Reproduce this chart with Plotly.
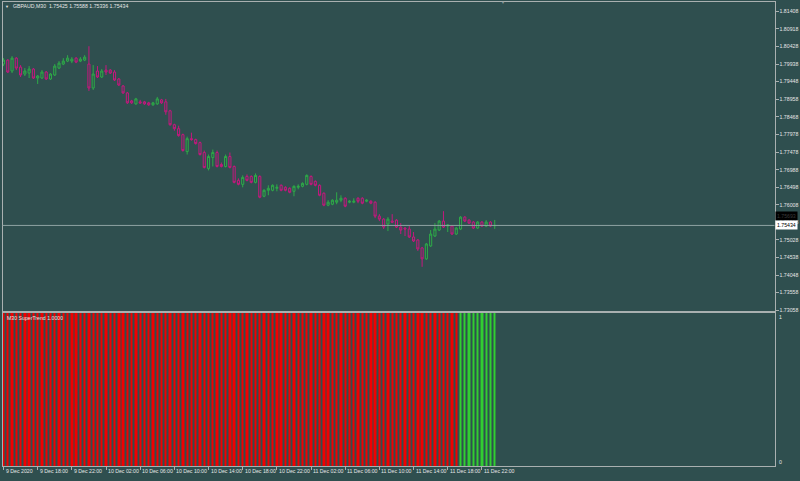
import pandas as pd
import plotly.graph_objects as go

# ---------------- data ----------------
symbol = "GBPAUD,M30"
indicator_name = "M30 SuperTrend 1.0000"
start_time = "2020-12-09 14:00"

opens = [
    1.79938, 1.80049, 1.79744, 1.80104, 1.79854, 1.79660, 1.79688, 1.79799, 1.79549, 1.79549,
    1.79716, 1.79522, 1.79633, 1.79827, 1.79938, 1.80021, 1.80021, 1.80104, 1.80021, 1.80049,
    1.79938, 1.79272, 1.79744, 1.79577, 1.79771, 1.79771, 1.79716, 1.79522, 1.79327, 1.79133,
    1.78911, 1.78828, 1.78884, 1.78884, 1.78856, 1.78801, 1.78828, 1.78939, 1.78884, 1.78634,
    1.78246, 1.78135, 1.77968, 1.77496, 1.77857, 1.77830, 1.77746, 1.77469, 1.77025, 1.77330,
    1.77469, 1.77136, 1.77080, 1.77358, 1.77080, 1.76692, 1.76581, 1.76803, 1.76803, 1.76637,
    1.76803, 1.76249, 1.76415, 1.76415, 1.76470, 1.76554, 1.76498, 1.76470, 1.76387, 1.76498,
    1.76526, 1.76581, 1.76803, 1.76665, 1.76554, 1.76332, 1.75999, 1.76026, 1.76082, 1.76138,
    1.76193, 1.76082, 1.76082, 1.76193, 1.76193, 1.76110, 1.76110, 1.76082, 1.75693, 1.75610,
    1.75472, 1.75555, 1.75582, 1.75388, 1.75361, 1.75333, 1.75111, 1.75028, 1.74806, 1.74501,
    1.74861, 1.75139, 1.75305, 1.75555, 1.75416, 1.75416, 1.75194, 1.75333, 1.75666, 1.75582,
    1.75527, 1.75361, 1.75527, 1.75416, 1.75527, 1.75425,
]
highs = [
    1.80104, 1.80076, 1.80160, 1.80132, 1.79910, 1.79827, 1.79882, 1.79827, 1.79633, 1.79771,
    1.79744, 1.79688, 1.79938, 1.80021, 1.80104, 1.80187, 1.80132, 1.80132, 1.80132, 1.80187,
    1.80437, 1.79910, 1.79882, 1.79799, 1.79910, 1.79799, 1.79771, 1.79549, 1.79355, 1.79161,
    1.78939, 1.78995, 1.78939, 1.78911, 1.78884, 1.78884, 1.79022, 1.78967, 1.78967, 1.78662,
    1.78273, 1.78218, 1.77996, 1.77913, 1.78024, 1.77857, 1.77774, 1.77524, 1.77413, 1.77552,
    1.77524, 1.77191, 1.77413, 1.77469, 1.77108, 1.76748, 1.76831, 1.76859, 1.76831, 1.76886,
    1.76831, 1.76443, 1.76554, 1.76581, 1.76581, 1.76581, 1.76526, 1.76498, 1.76554, 1.76581,
    1.76637, 1.76859, 1.76831, 1.76692, 1.76581, 1.76359, 1.76138, 1.76165, 1.76359, 1.76276,
    1.76221, 1.76138, 1.76193, 1.76221, 1.76221, 1.76165, 1.76138, 1.76110, 1.75749, 1.75638,
    1.75666, 1.75749, 1.75610, 1.75499, 1.75388, 1.75416, 1.75250, 1.75055, 1.74834, 1.74945,
    1.75305, 1.75499, 1.75582, 1.75832, 1.75472, 1.75444, 1.75388, 1.75693, 1.75693, 1.75610,
    1.75555, 1.75555, 1.75555, 1.75582, 1.75555, 1.75588,
]
lows = [
    1.79882, 1.79688, 1.79688, 1.79771, 1.79577, 1.79605, 1.79549, 1.79522, 1.79383, 1.79522,
    1.79494, 1.79494, 1.79605, 1.79799, 1.79910, 1.79993, 1.79965, 1.79965, 1.79993, 1.80021,
    1.79189, 1.79217, 1.79549, 1.79549, 1.79633, 1.79660, 1.79466, 1.79327, 1.79106, 1.78828,
    1.78828, 1.78801, 1.78828, 1.78801, 1.78773, 1.78773, 1.78801, 1.78828, 1.78523, 1.78218,
    1.78079, 1.77913, 1.77496, 1.77413, 1.77802, 1.77691, 1.77385, 1.77025, 1.76970, 1.77080,
    1.77053, 1.77053, 1.77053, 1.77025, 1.76609, 1.76554, 1.76498, 1.76665, 1.76609, 1.76609,
    1.76193, 1.76221, 1.76276, 1.76387, 1.76387, 1.76387, 1.76387, 1.76332, 1.76249, 1.76443,
    1.76498, 1.76554, 1.76554, 1.76526, 1.76249, 1.75971, 1.75971, 1.75999, 1.76026, 1.76082,
    1.75943, 1.76054, 1.76054, 1.76054, 1.76026, 1.76082, 1.76026, 1.75638, 1.75555, 1.75333,
    1.75277, 1.75499, 1.75361, 1.75194, 1.75139, 1.75083, 1.74972, 1.74723, 1.74279, 1.74473,
    1.74834, 1.75111, 1.75277, 1.75361, 1.75250, 1.75167, 1.75167, 1.75305, 1.75527, 1.75472,
    1.75333, 1.75333, 1.75388, 1.75388, 1.75388, 1.75336,
]
closes = [
    1.80049, 1.79716, 1.80104, 1.79827, 1.79633, 1.79744, 1.79799, 1.79549, 1.79605, 1.79716,
    1.79522, 1.79660, 1.79882, 1.79965, 1.80021, 1.80104, 1.80076, 1.79993, 1.80076, 1.80132,
    1.79272, 1.79660, 1.79577, 1.79744, 1.79716, 1.79688, 1.79494, 1.79355, 1.79133, 1.78856,
    1.78856, 1.78967, 1.78856, 1.78828, 1.78801, 1.78856, 1.78967, 1.78856, 1.78606, 1.78246,
    1.78135, 1.77941, 1.77524, 1.77857, 1.77830, 1.77719, 1.77413, 1.77053, 1.77358, 1.77469,
    1.77080, 1.77080, 1.77358, 1.77053, 1.76637, 1.76581, 1.76775, 1.76692, 1.76637, 1.76831,
    1.76221, 1.76415, 1.76470, 1.76554, 1.76498, 1.76415, 1.76415, 1.76359, 1.76526, 1.76526,
    1.76609, 1.76831, 1.76581, 1.76554, 1.76276, 1.75999, 1.76082, 1.76138, 1.76138, 1.76193,
    1.75971, 1.76110, 1.76110, 1.76110, 1.76054, 1.76138, 1.76054, 1.75693, 1.75610, 1.75388,
    1.75610, 1.75527, 1.75388, 1.75305, 1.75333, 1.75111, 1.75000, 1.74778, 1.74501, 1.74917,
    1.75194, 1.75333, 1.75555, 1.75388, 1.75444, 1.75194, 1.75361, 1.75666, 1.75555, 1.75499,
    1.75361, 1.75527, 1.75416, 1.75527, 1.75416, 1.75434,
]
# SuperTrend direction per bar: -1 = down (red), 1 = up (green)
trend_dir = [
    -1, -1, -1, -1, -1, -1, -1, -1, -1, -1, -1, -1, -1, -1, -1, -1, -1, -1, -1, -1,
    -1, -1, -1, -1, -1, -1, -1, -1, -1, -1, -1, -1, -1, -1, -1, -1, -1, -1, -1, -1,
    -1, -1, -1, -1, -1, -1, -1, -1, -1, -1, -1, -1, -1, -1, -1, -1, -1, -1, -1, -1,
    -1, -1, -1, -1, -1, -1, -1, -1, -1, -1, -1, -1, -1, -1, -1, -1, -1, -1, -1, -1,
    -1, -1, -1, -1, -1, -1, -1, -1, -1, -1, -1, -1, -1, -1, -1, -1, -1, -1, -1, -1,
    -1, -1, -1, -1, -1, -1, -1, 1, 1, 1, 1, 1, 1, 1, 1, 1,
]
trend_value = [
    1, 1, 1, 1, 1, 1, 1, 1, 1, 1, 1, 1, 1, 1, 1, 1, 1, 1, 1, 1,
    1, 1, 1, 1, 1, 1, 1, 1, 1, 1, 1, 1, 1, 1, 1, 1, 1, 1, 1, 1,
    1, 1, 1, 1, 1, 1, 1, 1, 1, 1, 1, 1, 1, 1, 1, 1, 1, 1, 1, 1,
    1, 1, 1, 1, 1, 1, 1, 1, 1, 1, 1, 1, 1, 1, 1, 1, 1, 1, 1, 1,
    1, 1, 1, 1, 1, 1, 1, 1, 1, 1, 1, 1, 1, 1, 1, 1, 1, 1, 1, 1,
    1, 1, 1, 1, 1, 1, 1, 1, 1, 1, 1, 1, 1, 1, 1, 1,
]
price_ticks = [1.81408, 1.80918, 1.80428, 1.79938, 1.79448, 1.78958, 1.78468, 1.77978,
               1.77478, 1.76988, 1.76498, 1.76008, 1.75518, 1.75028, 1.74538, 1.74048,
               1.73558, 1.73058]
time_tick_values = ["2020-12-09 14:00", "2020-12-09 18:00", "2020-12-09 22:00",
                    "2020-12-10 02:00", "2020-12-10 06:00", "2020-12-10 10:00",
                    "2020-12-10 14:00", "2020-12-10 18:00", "2020-12-10 22:00",
                    "2020-12-11 02:00", "2020-12-11 06:00", "2020-12-11 10:00",
                    "2020-12-11 14:00", "2020-12-11 18:00", "2020-12-11 22:00"]
time_tick_labels = ["9 Dec 2020", "9 Dec 18:00", "9 Dec 22:00", "10 Dec 02:00",
                    "10 Dec 06:00", "10 Dec 10:00", "10 Dec 14:00", "10 Dec 18:00",
                    "10 Dec 22:00", "11 Dec 02:00", "11 Dec 06:00", "11 Dec 10:00",
                    "11 Dec 14:00", "11 Dec 18:00", "11 Dec 22:00"]
line_label_price = 1.75693

# ---------------- style ----------------
BG = "#2f4f4f"
FRAME = "#a9b0b0"
TXT = "#e6e6e6"
BULL = "#2eaa48"
BEAR = "#c4187e"
UP_BAR = "#32cd32"
DN_BAR = "#f20000"
FONT = "Liberation Sans"
FS = 5.2

W, H = 800, 481
x_dom = [2.5 / W, 774.5 / W]
main_dom = [1 - 312.5 / H, 1 - 2.5 / H]
ind_dom = [1 - 469 / H, 1 - 314.5 / H]

times = pd.date_range(start_time, periods=len(opens), freq="30min")
bar_ms = 30 * 60 * 1000
x_range = [times[0] - pd.Timedelta(minutes=7), times[0] + pd.Timedelta(minutes=30 * 180.5)]

bar_colors = [UP_BAR if d > 0 else DN_BAR for d in trend_dir]

fig = go.Figure()
fig.add_trace(go.Candlestick(
    x=times, open=opens, high=highs, low=lows, close=closes,
    increasing=dict(line=dict(color=BULL, width=1), fillcolor=BG),
    decreasing=dict(line=dict(color=BEAR, width=1), fillcolor=BG),
    whiskerwidth=0, hoverinfo="skip", xaxis="x", yaxis="y", showlegend=False,
))
fig.add_trace(go.Bar(
    x=times, y=trend_value,
    marker=dict(color=bar_colors, line=dict(width=0.02, color=bar_colors)),
    width=bar_ms * 0.55, hoverinfo="skip", xaxis="x2", yaxis="y2", showlegend=False,
))

axis_common = dict(showgrid=False, zeroline=False, showline=True, mirror=True,
                   linecolor=FRAME, linewidth=1)
fig.update_layout(
    width=W, height=H, autosize=False,
    margin=dict(l=0, r=0, t=0, b=0),
    paper_bgcolor=BG, plot_bgcolor=BG,
    font=dict(family=FONT, size=FS, color=TXT),
    hovermode=False,
    xaxis=dict(domain=x_dom, range=x_range, type="date", anchor="y",
               showticklabels=False, ticks="", rangeslider=dict(visible=False), **axis_common),
    yaxis=dict(domain=main_dom, range=[1.73058, 1.81658], side="right", anchor="x",
               tickvals=price_ticks, ticktext=[f"{v:.5f}" for v in price_ticks],
               ticks="outside", ticklen=3, tickcolor=FRAME,
               tickfont=dict(size=FS, color=TXT, family=FONT), **axis_common),
    xaxis2=dict(domain=x_dom, range=x_range, type="date", anchor="y2", matches="x",
                tickvals=time_tick_values, ticks="outside", ticklen=3, tickcolor=FRAME,
                showticklabels=False, **axis_common),
    yaxis2=dict(domain=ind_dom, range=[0, 1], side="right", anchor="x2",
                showticklabels=False, ticks="", **axis_common),
    bargap=0,
)

# bid line
fig.add_shape(type="line", xref="x domain", yref="y", x0=0, x1=1,
              y0=closes[-1], y1=closes[-1], line=dict(color="#8fa3a3", width=1), layer="above")

ann = []
# header
ann.append(dict(xref="paper", yref="paper", x=3 / W, y=1 - 6.5 / H, xanchor="left", yanchor="middle",
                text="▼", showarrow=False, font=dict(size=4, color=TXT)))
ann.append(dict(xref="paper", yref="paper", x=11 / W, y=1 - 6.5 / H, xanchor="left", yanchor="middle",
                text=f"{symbol}  {opens[-1]:.5f} {highs[-1]:.5f} {lows[-1]:.5f} {closes[-1]:.5f}",
                showarrow=False, font=dict(size=FS, color=TXT, family=FONT)))
# shift marker
ann.append(dict(xref="paper", yref="paper", x=503 / W, y=1 - 3 / H, xanchor="center", yanchor="middle",
                text="▼", showarrow=False, font=dict(size=4, color="#8a9a9a")))
# indicator label
ann.append(dict(xref="paper", yref="paper", x=5 / W, y=1 - 319.5 / H, xanchor="left", yanchor="middle",
                text=indicator_name, showarrow=False, font=dict(size=FS, color=TXT, family=FONT)))
# indicator scale labels
ann.append(dict(xref="paper", yref="paper", x=777 / W, y=1 - 318.5 / H, xanchor="left", yanchor="middle",
                text="1", showarrow=False, font=dict(size=FS, color=TXT, family=FONT)))
ann.append(dict(xref="paper", yref="paper", x=777 / W, y=1 - 465 / H, xanchor="left", yanchor="middle",
                text="0", showarrow=False, font=dict(size=FS, color=TXT, family=FONT)))
# price labels at right
ann.append(dict(xref="paper", yref="y", x=775 / W, y=line_label_price, xanchor="left", yanchor="middle",
                text=f"{line_label_price:.5f}", showarrow=False, bgcolor="#000000", borderpad=1,
                font=dict(size=FS, color="#3a3a3a", family=FONT)))
ann.append(dict(xref="paper", yref="y", x=775 / W, y=closes[-1], xanchor="left", yanchor="middle",
                text=f"{closes[-1]:.5f}", showarrow=False, bgcolor="#ffffff", borderpad=1,
                font=dict(size=FS, color="#000000", family=FONT)))
# time labels
for tv, tl in zip(time_tick_values, time_tick_labels):
    ann.append(dict(xref="x2", yref="paper", x=tv, y=1 - 473.5 / H, xanchor="left", yanchor="middle",
                    xshift=0, text=tl, showarrow=False, font=dict(size=FS, color=TXT, family=FONT)))
fig.update_layout(annotations=ann)

fig.write_html(
    "out.html",
    config={"displayModeBar": False, "staticPlot": False},
    post_script="document.body.style.margin='0';document.body.style.padding='0';"
                "document.body.style.background='" + BG + "';",
)
